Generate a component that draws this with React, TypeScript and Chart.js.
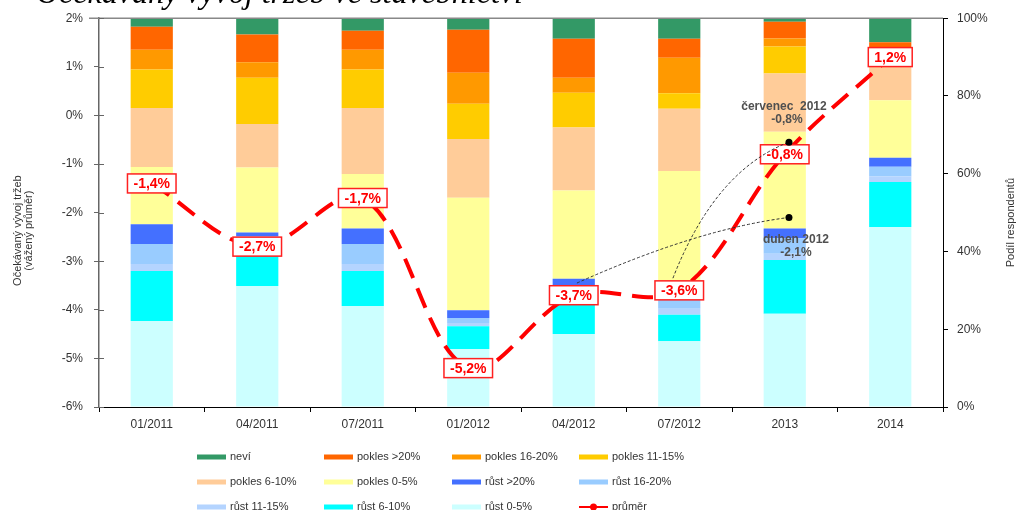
import React, { useEffect, useRef } from 'react';
import { Chart, registerables } from 'chart.js';

Chart.register(...registerables);

const categories = ['01/2011', '04/2011', '07/2011', '01/2012', '04/2012', '07/2012', '2013', '2014'];

// bar shares (%), stacked bottom -> top
const rust0_5 = [22.1, 31.1, 26.0, 14.9, 18.8, 16.9, 24.0, 46.3];
const rust6_10 = [12.9, 9.8, 9.0, 5.9, 10.4, 6.8, 13.8, 11.6];
const rust11_15 = [1.8, 1.0, 1.8, 0.8, 0.8, 1.6, 1.6, 1.4];
const rust16_20 = [5.1, 2.0, 5.1, 1.3, 1.0, 3.0, 4.0, 2.5];
const rustOver20 = [5.1, 1.0, 4.0, 2.0, 2.0, 0.5, 2.5, 2.3];
const pokles0_5 = [14.7, 16.7, 14.0, 28.9, 22.7, 31.9, 24.9, 14.8];
const pokles6_10 = [15.2, 11.2, 17.0, 15.1, 16.2, 16.0, 15.0, 10.9];
const pokles11_15 = [9.9, 11.9, 9.9, 9.1, 8.9, 4.0, 6.9, 0.5];
const pokles16_20 = [5.1, 4.0, 5.1, 8.0, 3.9, 9.1, 2.1, 1.0];
const poklesOver20 = [5.9, 7.1, 4.9, 11.0, 10.0, 4.9, 4.3, 2.5];
const nevi = [2.2, 4.2, 3.3, 3.3, 5.3, 5.3, 1.0, 6.2];

// weighted average (%)
const prumer = [-1.4, -2.7, -1.7, -5.2, -3.7, -3.6, -0.8, 1.2];

// tick settings
const leftTickMin = -6;
const leftTickMax = 2;
const rightTickMax = 100;

// axis titles
const leftTitle = ['Očekávaný vývoj tržeb', '(vážený průměr)'];
const rightTitle = 'Podíl respondentů';

// annotations (callouts)
const annotNames = ['červenec  2012', 'duben 2012'];
const annotValues = ['-0,8%', '-2,1%'];
const annotDotX = [6.04, 6.04];
const annotDotY = [-0.55, -2.1];
const annotFromX = [4.94, 4.03];
const annotFromY = [-3.35, -3.45];
const annotCtrlX = [5.34, 5.17];
const annotCtrlY = [-1.13, -2.34];

const FONT = "'Liberation Sans', Arial, sans-serif";

const barSeries = [
  { label: 'růst 0-5%', data: rust0_5, color: '#CCFFFF' },
  { label: 'růst 6-10%', data: rust6_10, color: '#00FFFF' },
  { label: 'růst 11-15%', data: rust11_15, color: '#B4D4FF' },
  { label: 'růst 16-20%', data: rust16_20, color: '#99CCFF' },
  { label: 'růst >20%', data: rustOver20, color: '#4470FF' },
  { label: 'pokles 0-5%', data: pokles0_5, color: '#FFFF99' },
  { label: 'pokles 6-10%', data: pokles6_10, color: '#FFCC99' },
  { label: 'pokles 11-15%', data: pokles11_15, color: '#FFCC00' },
  { label: 'pokles 16-20%', data: pokles16_20, color: '#FF9900' },
  { label: 'pokles >20%', data: poklesOver20, color: '#FF6600' },
  { label: 'neví', data: nevi, color: '#339966' },
];

const legendOrder = [
  'neví', 'pokles >20%', 'pokles 16-20%', 'pokles 11-15%',
  'pokles 6-10%', 'pokles 0-5%', 'růst >20%', 'růst 16-20%',
  'růst 11-15%', 'růst 6-10%', 'růst 0-5%', 'průměr',
];

const fmt = (v: number) => v.toFixed(1).replace('.', ',') + '%';

const extrasPlugin = {
  id: 'extras',
  afterDatasetsDraw(chart: any) {
    const ctx = chart.ctx;
    const xs = chart.scales.x;
    const ys = chart.scales.y;
    // value labels on the average line
    const meta = chart.getDatasetMeta(chart.data.datasets.length - 1);
    ctx.save();
    ctx.font = `bold 14px ${FONT}`;
    ctx.textAlign = 'center';
    ctx.textBaseline = 'middle';
    meta.data.forEach((pt: any, i: number) => {
      const t = fmt(prumer[i]);
      const w = ctx.measureText(t).width + 12;
      const h = 19;
      const x = pt.x;
      const y = pt.y;
      ctx.fillStyle = '#FFFFFF';
      ctx.fillRect(x - w / 2, y - h / 2, w, h);
      ctx.strokeStyle = '#FF2020';
      ctx.lineWidth = 1.5;
      ctx.strokeRect(x - w / 2, y - h / 2, w, h);
      ctx.fillStyle = '#FF0000';
      ctx.fillText(t, x, y + 1);
    });

    // callouts
    for (let i = 0; i < annotNames.length; i++) {
      const dx = xs.getPixelForValue(annotDotX[i]);
      const dy = ys.getPixelForValue(annotDotY[i]);
      const fx = xs.getPixelForValue(annotFromX[i]);
      const fy = ys.getPixelForValue(annotFromY[i]);
      const cx = xs.getPixelForValue(annotCtrlX[i]);
      const cy = ys.getPixelForValue(annotCtrlY[i]);
      ctx.beginPath();
      ctx.setLineDash([3, 2]);
      ctx.strokeStyle = '#333333';
      ctx.lineWidth = 1;
      ctx.moveTo(fx, fy);
      ctx.quadraticCurveTo(cx, cy, dx, dy);
      ctx.stroke();
      ctx.setLineDash([]);
      ctx.beginPath();
      ctx.fillStyle = '#000000';
      ctx.arc(dx, dy, 3.5, 0, Math.PI * 2);
      ctx.fill();
      ctx.font = `bold 12px ${FONT}`;
      ctx.fillStyle = '#505050';
      if (i === 0) {
        ctx.fillText(annotNames[i], dx - 5, dy - 35);
        ctx.fillText(annotValues[i], dx - 2, dy - 22);
      } else {
        ctx.fillText(annotNames[i], dx + 7, dy + 22);
        ctx.fillText(annotValues[i], dx + 7, dy + 35);
      }
    }
    ctx.restore();
  },
  afterDraw(chart: any) {
    const ctx = chart.ctx;
    const a = chart.chartArea;
    ctx.save();
    // top frame line
    ctx.strokeStyle = '#888888';
    ctx.lineWidth = 1.5;
    ctx.beginPath();
    ctx.moveTo(a.left - 10, a.top);
    ctx.lineTo(a.right, a.top);
    ctx.stroke();

    // inward tick halves on left axis
    const ys = chart.scales.y;
    ctx.strokeStyle = '#666666';
    ctx.lineWidth = 1;
    for (let v = leftTickMin; v <= leftTickMax; v++) {
      const y = Math.round(ys.getPixelForValue(v)) + 0.5;
      ctx.beginPath();
      ctx.moveTo(a.left, y);
      ctx.lineTo(a.left + 5, y);
      ctx.stroke();
    }

    // axis titles
    ctx.fillStyle = '#333333';
    ctx.textAlign = 'center';
    ctx.textBaseline = 'middle';
    ctx.font = `11px ${FONT}`;
    ctx.save();
    ctx.translate(18, (a.top + a.bottom) / 2 + 18);
    ctx.rotate(-Math.PI / 2);
    ctx.fillText(leftTitle[0], 0, 0);
    ctx.fillText(leftTitle[1], 0, 11);
    ctx.restore();
    ctx.font = `11px ${FONT}`;
    ctx.save();
    ctx.translate(1011, (a.top + a.bottom) / 2 + 10);
    ctx.rotate(-Math.PI / 2);
    ctx.fillText(rightTitle, 0, 0);
    ctx.restore();

    // legend
    const cols = [197, 324, 452, 579];
    const rows = [457, 482, 507];
    ctx.font = `11px ${FONT}`;
    ctx.textAlign = 'left';
    ctx.textBaseline = 'middle';
    legendOrder.forEach((name, idx) => {
      const x = cols[idx % 4];
      const y = rows[Math.floor(idx / 4)];
      if (name === 'průměr') {
        ctx.strokeStyle = '#FF0000';
        ctx.lineWidth = 2;
        ctx.beginPath();
        ctx.moveTo(x, y);
        ctx.lineTo(x + 29, y);
        ctx.stroke();
        ctx.fillStyle = '#FF0000';
        ctx.beginPath();
        ctx.arc(x + 14.5, y, 3.5, 0, Math.PI * 2);
        ctx.fill();
      } else {
        const s = barSeries.find((b) => b.label === name)!;
        ctx.fillStyle = s.color;
        ctx.fillRect(x, y - 2.5, 29, 5);
      }
      ctx.fillStyle = '#333333';
      ctx.fillText(name, x + 33, y);
    });
    ctx.restore();
  },
};

export default function App() {
  const ref = useRef<HTMLCanvasElement | null>(null);

  useEffect(() => {
    if (!ref.current) return;
    const datasets: any[] = barSeries.map((s) => ({
      type: 'bar',
      label: s.label,
      data: s.data,
      backgroundColor: s.color,
      borderWidth: 0,
      yAxisID: 'y2',
      stack: 'shares',
      order: 1,
      categoryPercentage: 1,
      barPercentage: 0.4,
    }));
    datasets.push({
      type: 'line',
      label: 'průměr',
      data: prumer,
      yAxisID: 'y',
      borderColor: '#FF0000',
      borderWidth: 4,
      borderDash: [21, 11],
      pointRadius: 0,
      tension: 0.35,
      fill: false,
      order: 0,
    });

    const chart = new Chart(ref.current, {
      type: 'bar',
      data: { labels: categories, datasets },
      options: {
        responsive: false,
        animation: false,
        devicePixelRatio: 1,
        layout: { padding: { top: 18, left: 0, right: 0, bottom: 0 } },
        plugins: { legend: { display: false }, tooltip: { enabled: false } },
        scales: {
          x: {
            stacked: true,
            grid: { display: true, drawOnChartArea: false, drawTicks: true, tickLength: 5, color: '#000000', offset: true },
            border: { color: '#000000', width: 1 },
            ticks: { color: '#333333', font: { family: FONT, size: 12 }, padding: 5 },
            afterFit: (s: any) => { s.height = 103; },
          },
          y: {
            position: 'left',
            min: leftTickMin,
            max: leftTickMax,
            ticks: {
              stepSize: 1,
              color: '#333333',
              font: { family: FONT, size: 12 },
              padding: 11,
              callback: (v: any) => v + '%',
            },
            grid: { display: true, drawOnChartArea: false, drawTicks: true, tickLength: 5, color: '#666666' },
            border: { color: '#666666', width: 1.5 },
            afterFit: (s: any) => { s.width = 99; },
          },
          y2: {
            position: 'right',
            stacked: true,
            min: 0,
            max: rightTickMax,
            ticks: {
              stepSize: 20,
              color: '#333333',
              font: { family: FONT, size: 12 },
              padding: 9,
              callback: (v: any) => v + '%',
            },
            grid: { display: true, drawOnChartArea: false, drawTicks: true, tickLength: 5, color: '#000000' },
            border: { color: '#000000', width: 1 },
            afterFit: (s: any) => { s.width = 76; },
          },
        },
      } as any,
      plugins: [extrasPlugin],
    });
    return () => chart.destroy();
  }, []);

  return (
    <div style={{ position: 'absolute', left: 0, top: 0, width: 1019, height: 510, overflow: 'hidden', background: '#FFFFFF' }}>
      <canvas ref={ref} width={1019} height={510} style={{ position: 'absolute', left: 0, top: 0 }} />
      <div
        style={{
          position: 'absolute',
          left: 36,
          top: -24,
          fontFamily: "'Liberation Serif', 'Times New Roman', serif",
          fontStyle: 'italic',
          fontSize: 32,
          lineHeight: '32px',
          whiteSpace: 'nowrap',
          color: '#000000',
        }}
      >
        Očekávaný vývoj tržeb ve stavebnictví
      </div>
    </div>
  );
}
